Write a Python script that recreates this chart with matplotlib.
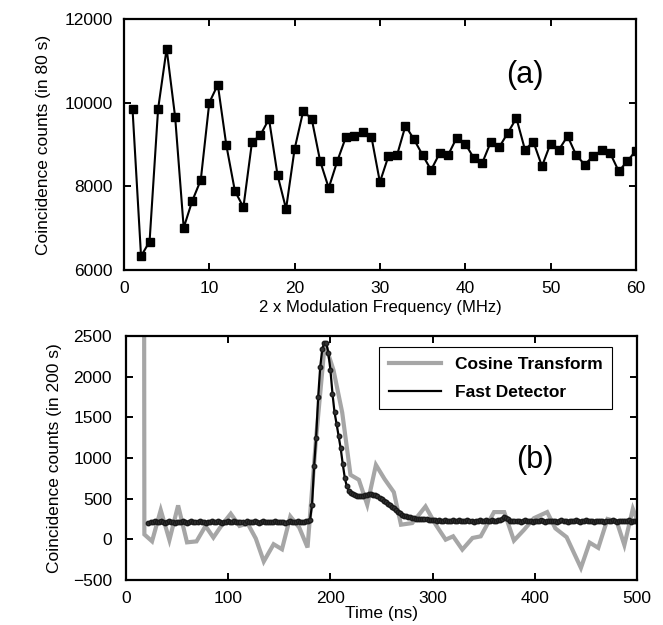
import numpy as np
import matplotlib
matplotlib.use("Agg")
import matplotlib.pyplot as plt

plt.rcParams['font.family'] = ['Liberation Sans', 'DejaVu Sans']

# (a) coincidence counts vs 2x modulation frequency
freq = np.arange(1, 61)
counts_a = [9850, 6330, 6680, 9850, 11290, 9650, 7010, 7650, 8150, 10000,
            10430, 8980, 7890, 7500, 9050, 9230, 9610, 8270, 7460, 8890,
            9790, 9620, 8600, 7960, 8600, 9170, 9200, 9300, 9190, 8100,
            8720, 8740, 9450, 9120, 8750, 8390, 8790, 8750, 9160, 9020,
            8680, 8560, 9060, 8940, 9280, 9630, 8880, 9060, 8480, 9020,
            8880, 9200, 8750, 8520, 8720, 8860, 8790, 8360, 8600, 8850]

# (b) cosine transform (grey)
t_cos = [17, 18, 25.5, 34, 42.5, 51, 59.7, 69, 77.8, 85.5,
         94, 102.5, 111, 119, 127, 134.8, 144.4, 152.6, 160.8, 169.5,
         177.6, 186, 194.5, 203, 211.5, 219.6, 227.8, 236, 244.5, 253,
         262, 269, 280, 293, 303, 312.7, 320, 329, 339, 347,
         360, 370, 379.5, 389.5, 399, 412, 420, 431, 445, 453.5,
         462, 471, 480, 487.5, 495.8, 500]
cos_vals = [12000, 60, -24, 360, -8, 417, -37, -25, 164, 22,
            180, 315, 165, 195, 10, -272, -60, -122, 282, 145,
            -100, 1250, 2410, 2080, 1560, 793, 732, 425, 915, 740,
            580, 180, 200, 404, 180, -4, 37, -126, 17, 37,
            335, 335, -15, 119, 260, 335, 135, 27, -351, -40,
            -105, 250, 220, -70, 375, 240]

# (b) fast detector (black), 2 ns bins from 22 to 500 ns
t_fast = np.arange(22, 501, 2)
fast_vals = [
    205, 214, 209, 221, 216, 208, 225, 212, 203, 218,
    222, 210, 215, 206, 219, 213, 208, 224, 211, 205,
    217, 220, 209, 214, 207, 222, 216, 210, 204, 219,
    213, 221, 208, 215, 226, 211, 206, 218, 212, 220,
    209, 214, 223, 207, 216, 210, 219, 205, 221, 213,
    208, 217, 224, 212, 206, 215, 220, 209, 214, 218,
    211, 207, 222, 216, 210, 213, 219, 205, 217, 221,
    212, 208, 215, 223, 210, 218, 214, 220, 226,
    240, 420, 900, 1250, 1750, 2120, 2340, 2420, 2410, 2290,
    2080, 1790, 1560, 1420, 1270, 1120, 930, 760, 650, 600,
    575, 555, 545, 535, 528, 530, 535, 540, 548, 555,
    552, 548, 540, 528, 512, 495, 475, 455, 435, 418,
    400, 385, 362, 340, 318, 303, 290, 282, 275, 270,
    265, 260, 256, 254, 252, 248, 246, 244, 243, 241,
    240,
    232, 226, 238, 229, 222, 235, 227, 231, 220, 233,
    228, 224, 236, 230, 221, 227, 234, 225, 229, 219,
    231, 226, 237, 223, 228, 232, 220, 229, 235, 224,
    227, 233, 238, 252, 274, 268, 246, 230, 222, 228,
    225, 231, 219, 227, 234, 222, 229, 224, 218, 230,
    226, 221, 233, 227, 215, 229, 224, 220, 231, 225,
    219, 228, 234, 222, 226, 217, 230, 225, 221, 232,
    224, 218, 229, 226, 233, 220, 227, 223, 216, 228,
    231, 222, 225, 219, 230, 226, 221, 234, 224, 218,
    227, 223, 230, 220, 226, 232, 219, 225, 228, 222]

fig = plt.figure(figsize=(6.63, 6.25), dpi=100)
ax1 = fig.add_axes([0.187, 0.568, 0.772, 0.4016])
ax2 = fig.add_axes([0.190, 0.072, 0.771, 0.3904])

def style_axes(ax):
    for s in ax.spines.values():
        s.set_linewidth(1.6)
    ax.tick_params(direction='in', length=5, width=1.4, labelsize=12.5,
                   top=True, right=True, pad=8)

# top panel
ax1.plot(freq, counts_a, color='black', lw=1.5, marker='s', markersize=5.5)
ax1.set_xlim(0, 60)
ax1.set_ylim(6000, 12000)
ax1.set_xticks(range(0, 61, 10))
ax1.set_yticks(range(6000, 12001, 2000))
style_axes(ax1)
ax1.tick_params(axis='y', pad=8)
ax1.set_xlabel('2 x Modulation Frequency (MHz)', fontsize=12, labelpad=3)
ax1.set_ylabel('Coincidence counts (in 80 s)', fontsize=12.5, labelpad=10)
ax1.text(0.783, 0.777, '(a)', transform=ax1.transAxes, fontsize=22,
         ha='center', va='center')

# bottom panel
ax2.plot(t_cos, cos_vals, color='#a6a6a6', lw=3, label='Cosine Transform',
         solid_joinstyle='miter')
ax2.plot(t_fast, fast_vals, color='black', lw=1.6, label='Fast Detector')
ax2.plot(t_fast, fast_vals, ls='none', marker='o', markersize=3.2,
         color='#333333', markeredgecolor='#1a1a1a')
ax2.set_xlim(0, 500)
ax2.set_ylim(-500, 2500)
ax2.set_xticks(range(0, 501, 100))
ax2.set_yticks(range(-500, 2501, 500))
style_axes(ax2)
ax2.tick_params(axis='y', pad=10)
ax2.set_xlabel('Time (ns)', fontsize=12.5, labelpad=0)
ax2.set_ylabel('Coincidence counts (in 200 s)', fontsize=12.5, labelpad=8)
leg = ax2.legend(loc='upper right', bbox_to_anchor=(0.951, 0.955),
                 borderaxespad=0,
                 prop={'weight': 'bold', 'size': 12.5}, fancybox=False,
                 edgecolor='black', framealpha=1, handlelength=3,
                 borderpad=0.55, labelspacing=0.75, handletextpad=0.8)
leg.get_frame().set_linewidth(0.8)
ax2.text(0.80, 0.49, '(b)', transform=ax2.transAxes, fontsize=22,
         ha='center', va='center')

fig.savefig('out.png', dpi=100)
